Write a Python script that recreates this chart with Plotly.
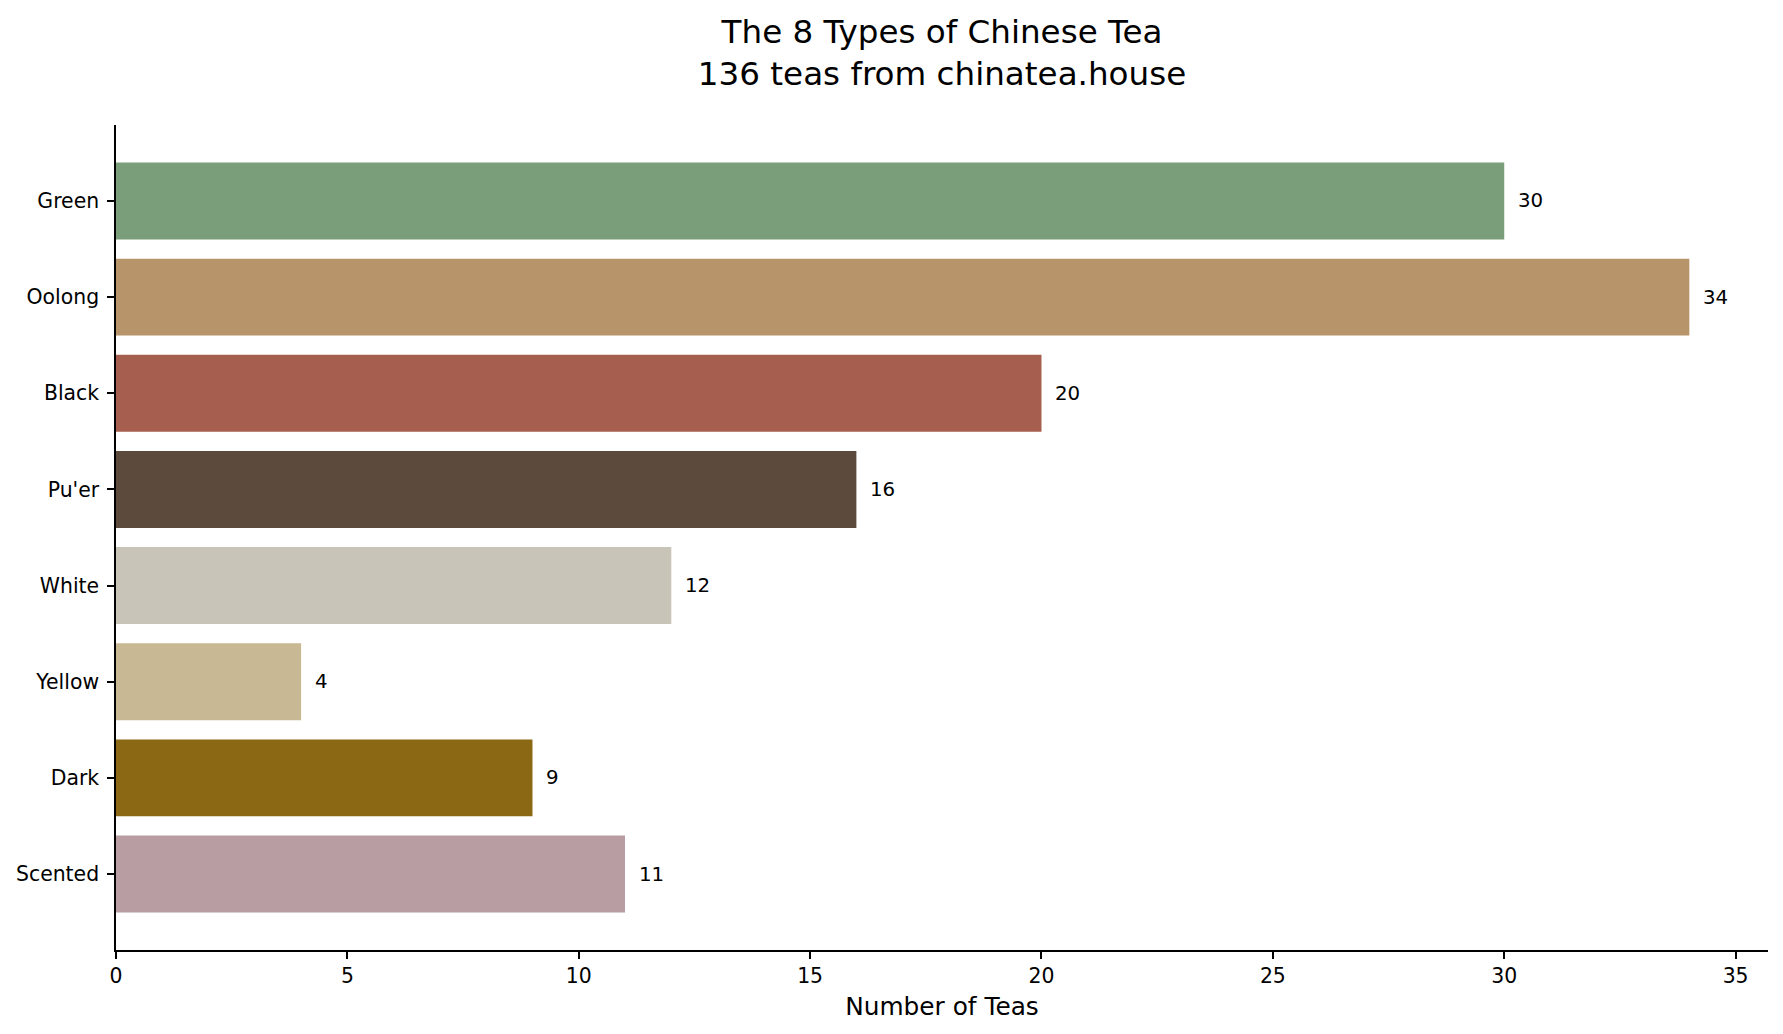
import plotly.graph_objects as go

# tea types, counts and the colour used for each bar
tea_types = ["Green", "Oolong", "Black", "Pu'er", "White", "Yellow", "Dark", "Scented"]
tea_counts = [30, 34, 20, 16, 12, 4, 9, 11]
tea_colors = ["#7a9e7a", "#b8946b", "#a65f4f", "#5c4a3c",
              "#c8c4b7", "#c9b894", "#8b6914", "#b89ea2"]

FONT = "DejaVu Sans"

fig = go.Figure()
fig.add_trace(go.Bar(
    x=tea_counts,
    y=tea_types,
    orientation="h",
    width=0.8,
    marker=dict(color=tea_colors, line=dict(width=0)),
    hoverinfo="x+y",
))

# value labels just past the end of each bar
for name, n in zip(tea_types, tea_counts):
    fig.add_annotation(x=n, y=name, text=str(n), showarrow=False,
                       xanchor="left", yanchor="middle", xshift=12,
                       font=dict(family=FONT, size=19.8, color="black"))

fig.update_layout(
    width=1783, height=1034,
    margin=dict(l=108, r=23, t=117, b=92),
    paper_bgcolor="white", plot_bgcolor="white",
    showlegend=False,
    font=dict(family=FONT, color="black"),
    title=dict(text="The 8 Types of Chinese Tea<br>136 teas from chinatea.house",
               x=0.5, xanchor="center", xref="paper",
               y=1 - 35 / 1034, yanchor="middle", yref="container",
               font=dict(family=FONT, size=32.6, color="black")),
)
fig.update_xaxes(
    range=[0, 35.7], dtick=5, tick0=0,
    showgrid=False, zeroline=False, automargin=False,
    showline=True, linecolor="black", linewidth=1.6,
    ticks="outside", ticklen=7, tickwidth=1.6, tickcolor="black",
    tickfont=dict(family=FONT, size=20.4, color="black"),
    title=dict(text="Number of Teas", standoff=10,
               font=dict(family=FONT, size=24.8, color="black")),
)
fig.update_yaxes(
    type="category", categoryorder="array", categoryarray=tea_types,
    range=[7.79, -0.79], automargin=False,
    showgrid=False, zeroline=False,
    showline=True, linecolor="black", linewidth=1.6,
    ticks="outside", ticklen=7, tickwidth=1.6, tickcolor="black",
    ticklabelstandoff=4,
    tickfont=dict(family=FONT, size=20.4, color="black"),
)

fig.write_html("out.html")
